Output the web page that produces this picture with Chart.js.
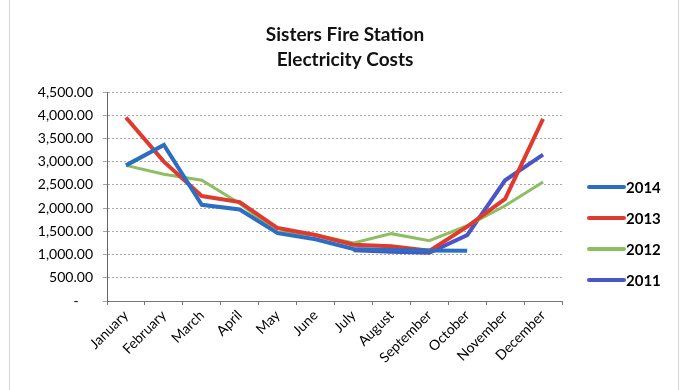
<!DOCTYPE html>
<html>
<head>
<meta charset="utf-8">
<script src="https://cdn.jsdelivr.net/npm/chart.js@4/dist/chart.umd.min.js"></script>
<style>
  html, body { margin: 0; padding: 0; background: #ffffff; }
  #wrap { width: 682px; height: 390px; position: relative; }
</style>
</head>
<body>
<div id="wrap"><canvas id="chart" width="682" height="390"></canvas></div>
<script>
// Monthly electricity costs for the Sisters Fire Station
const months = ['January', 'February', 'March', 'April', 'May', 'June', 'July',
                'August', 'September', 'October', 'November', 'December'];
const cost2014 = [2920, 3360, 2070, 1970, 1460, 1330, 1120, 1100, 1090, 1080, null, null];
const cost2013 = [3950, 3000, 2260, 2130, 1570, 1420, 1210, 1180, 1080, 1600, 2200, 3920];
const cost2012 = [2920, 2730, 2600, 2100, 1480, 1420, 1250, 1450, 1300, 1620, 2050, 2560];
const cost2011 = [null, null, null, null, null, null, 1090, 1060, 1040, 1420, 2600, 3150];
const yTicks = [0, 500, 1000, 1500, 2000, 2500, 3000, 3500, 4000, 4500];
const titleLines = ['Sisters Fire Station', 'Electricity Costs'];

const seriesInfo = [
  { label: '2014', data: cost2014, color: '#2B6EC2', width: 4 },
  { label: '2013', data: cost2013, color: '#E03A2E', width: 4 },
  { label: '2012', data: cost2012, color: '#8DBE62', width: 3 },
  { label: '2011', data: cost2011, color: '#4B56C6', width: 4 }
];

const FONT = 'Lato, "Open Sans", "DejaVu Sans", sans-serif';

// Title, side legend and frame edges drawn on top of the chart
const decorations = {
  id: 'decorations',
  afterDraw(chart) {
    const ctx = chart.ctx;
    ctx.save();
    // frame edges
    ctx.strokeStyle = '#d4d4d4';
    ctx.lineWidth = 1;
    ctx.beginPath();
    ctx.moveTo(9.5, 0); ctx.lineTo(9.5, 390);
    ctx.moveTo(678.5, 0); ctx.lineTo(678.5, 390);
    ctx.stroke();

    // title
    ctx.fillStyle = '#111111';
    ctx.font = 'bold 19px ' + FONT;
    ctx.textAlign = 'center';
    ctx.textBaseline = 'middle';
    ctx.fillText(titleLines[0], 345, 35);
    ctx.fillText(titleLines[1], 345, 60);

    // legend
    ctx.textAlign = 'left';
    ctx.font = 'bold 15px ' + FONT;
    chart.data.datasets.forEach((ds, i) => {
      const y = 187 + 31 * i;
      ctx.strokeStyle = ds.borderColor;
      ctx.lineWidth = 4;
      ctx.lineCap = 'round';
      ctx.beginPath();
      ctx.moveTo(589, y);
      ctx.lineTo(624, y);
      ctx.stroke();
      ctx.fillStyle = '#000000';
      ctx.fillText(ds.label, 626, y + 1);
    });
    ctx.restore();
  }
};

new Chart(document.getElementById('chart'), {
  type: 'line',
  data: {
    labels: months,
    datasets: seriesInfo.map(s => ({
      label: s.label,
      data: s.data,
      borderColor: s.color,
      backgroundColor: s.color,
      borderWidth: s.width,
      pointRadius: 0,
      pointHoverRadius: 0,
      tension: 0,
      fill: false,
      spanGaps: false
    }))
  },
  options: {
    responsive: false,
    animation: false,
    devicePixelRatio: 1,
    layout: { padding: { top: 92, right: 120, left: 0, bottom: 0 } },
    plugins: {
      legend: { display: false },
      title: { display: false },
      tooltip: { enabled: false }
    },
    scales: {
      x: {
        offset: true,
        afterFit(scale) { scale.height = 89; },
        grid: {
          offset: true,
          drawOnChartArea: false,
          drawTicks: true,
          tickLength: 4,
          color: '#777777'
        },
        border: { color: '#777777', width: 1 },
        ticks: {
          minRotation: 45,
          maxRotation: 45,
          autoSkip: false,
          padding: 2,
          color: '#000000',
          font: { family: FONT, size: 14 }
        }
      },
      y: {
        min: 0,
        max: 4500,
        afterFit(scale) { scale.width = 107; },
        afterBuildTicks(scale) { scale.ticks = yTicks.map(v => ({ value: v })); },
        grid: {
          color: '#a8a8a8',
          lineWidth: 1,
          drawTicks: true,
          tickLength: 4
        },
        border: { color: '#666666', width: 1, dash: [2, 2] },
        ticks: {
          padding: 10,
          color: '#000000',
          font: { family: FONT, size: 14 },
          callback(value) {
            if (value === 0) return '-    ';
            return value.toLocaleString('en-US', { minimumFractionDigits: 2, maximumFractionDigits: 2 });
          }
        }
      }
    }
  },
  plugins: [decorations]
});
</script>
</body>
</html>
